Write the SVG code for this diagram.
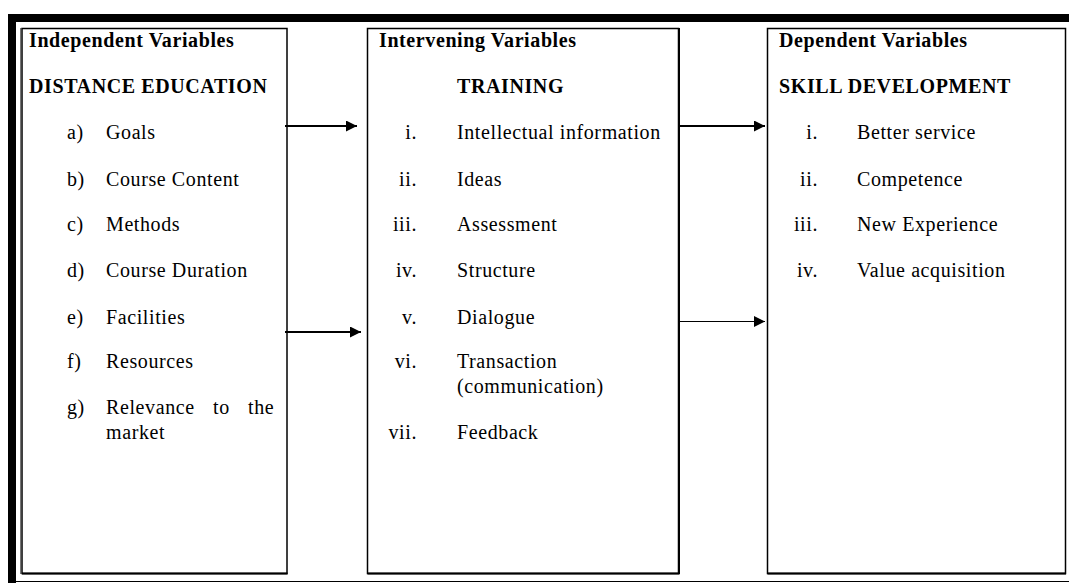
<svg xmlns="http://www.w3.org/2000/svg" width="1069" height="583" viewBox="0 0 1069 583">
<style>
text{font-family:"Liberation Serif","Times New Roman",serif;font-size:20px;letter-spacing:0.6px;fill:#000}
.b{font-weight:bold}
.n{text-anchor:end}
.box{fill:#fff;stroke:#000;stroke-width:1.5}
.frame{fill:#000}
.c{stroke:#000;fill:none}
</style>
<defs>
<marker id="ah" viewBox="0 0 10 10" refX="10" refY="5" markerWidth="12" markerHeight="11" markerUnits="userSpaceOnUse" orient="auto">
<path d="M0,0 L10,5 L0,10 Z" fill="#000"/>
</marker>
</defs>
<rect width="1069" height="583" fill="#fff"/>
<g id="frame">
<rect class="frame" x="8" y="14" width="1061" height="8"/>
<rect class="frame" x="8" y="14" width="8" height="569"/>
<line x1="16" y1="581.5" x2="1069" y2="581.5" stroke="#000" stroke-width="1"/>
</g>
<g id="independent">
<rect class="box" x="22" y="28.5" width="265" height="545"/>
<line x1="20.5" y1="28" x2="20.5" y2="574" stroke="#777" stroke-width="1"/>
<line x1="22" y1="573.5" x2="287.5" y2="573.5" stroke="#000" stroke-width="2"/>
<text class="b" x="29" y="47">Independent Variables</text>
<text class="b" x="29" y="93">DISTANCE EDUCATION</text>
<text x="67" y="139">a)</text><text x="106" y="139">Goals</text>
<text x="67" y="186">b)</text><text x="106" y="186">Course Content</text>
<text x="67" y="231">c)</text><text x="106" y="231">Methods</text>
<text x="67" y="277">d)</text><text x="106" y="277">Course Duration</text>
<text x="67" y="324">e)</text><text x="106" y="324">Facilities</text>
<text x="67" y="368">f)</text><text x="106" y="368">Resources</text>
<text x="67" y="414">g)</text><text y="414"><tspan x="106">Relevance</tspan><tspan x="213">to</tspan><tspan x="248">the</tspan></text>
<text x="106" y="439">market</text>
</g>
<g id="intervening">
<rect class="box" x="367.5" y="28.5" width="311" height="545"/>
<line x1="367.5" y1="573.5" x2="679.5" y2="573.5" stroke="#000" stroke-width="2"/>
<line x1="679" y1="28" x2="679" y2="574" stroke="#000" stroke-width="2"/>
<text class="b" x="379" y="47">Intervening Variables</text>
<text class="b" x="457" y="93">TRAINING</text>
<text class="n" x="417" y="139">i.</text><text x="457" y="139">Intellectual information</text>
<text class="n" x="417" y="186">ii.</text><text x="457" y="186">Ideas</text>
<text class="n" x="417" y="231">iii.</text><text x="457" y="231">Assessment</text>
<text class="n" x="417" y="277">iv.</text><text x="457" y="277">Structure</text>
<text class="n" x="417" y="324">v.</text><text x="457" y="324">Dialogue</text>
<text class="n" x="417" y="368">vi.</text><text x="457" y="368">Transaction</text>
<text x="457" y="393">(communication)</text>
<text class="n" x="417" y="439">vii.</text><text x="457" y="439">Feedback</text>
</g>
<g id="dependent">
<rect class="box" x="767.5" y="28.5" width="298" height="545"/>
<line x1="767.5" y1="573.5" x2="1066" y2="573.5" stroke="#000" stroke-width="2"/>
<text class="b" x="779" y="47">Dependent Variables</text>
<text class="b" x="779" y="93">SKILL DEVELOPMENT</text>
<text class="n" x="818" y="139">i.</text><text x="857" y="139">Better service</text>
<text class="n" x="818" y="186">ii.</text><text x="857" y="186">Competence</text>
<text class="n" x="818" y="231">iii.</text><text x="857" y="231">New Experience</text>
<text class="n" x="818" y="277">iv.</text><text x="857" y="277">Value acquisition</text>
</g>
<g id="connectors">
<line class="c" x1="285" y1="126" x2="357" y2="126" stroke-width="2" marker-end="url(#ah)"/>
<line class="c" x1="285" y1="332" x2="361" y2="332" stroke-width="2" marker-end="url(#ah)"/>
<line class="c" x1="680" y1="126" x2="765" y2="126" stroke-width="2" marker-end="url(#ah)"/>
<line class="c" x1="680" y1="321.5" x2="765" y2="321.5" stroke-width="1" marker-end="url(#ah)"/>
</g>
</svg>
